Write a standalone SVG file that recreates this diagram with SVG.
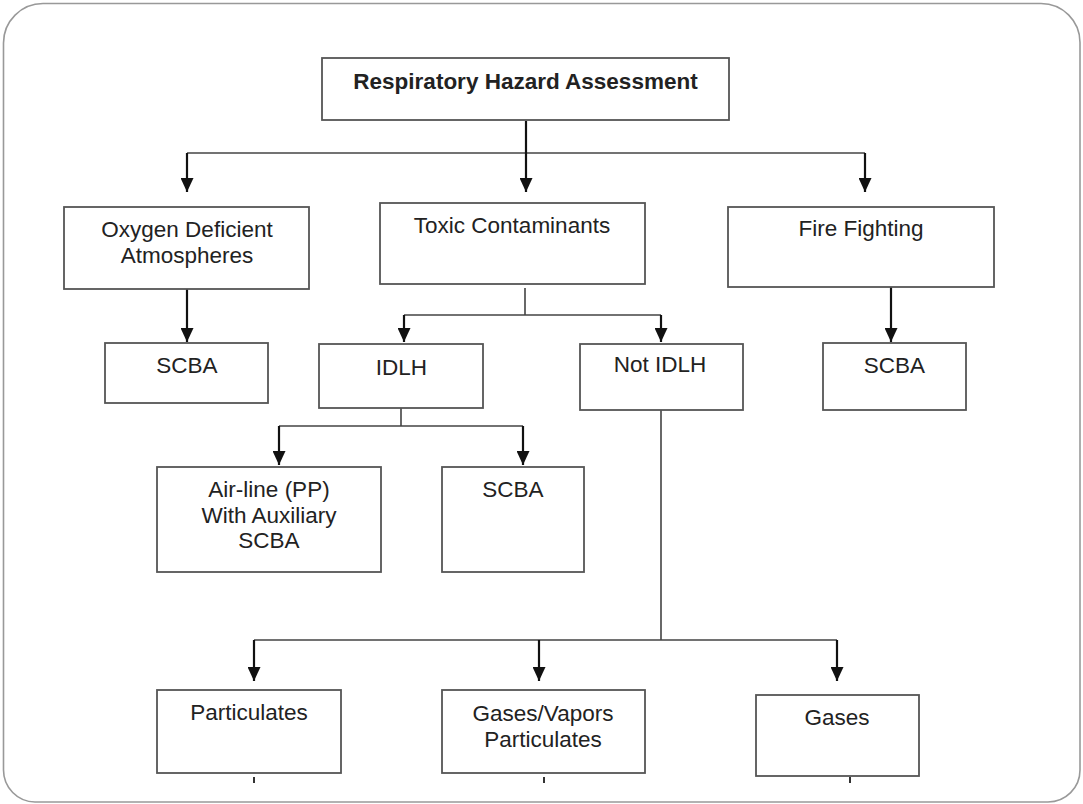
<svg xmlns="http://www.w3.org/2000/svg" width="1083" height="804" viewBox="0 0 1083 804">
<defs>
<marker id="arr" viewBox="0 0 14 13" refX="14" refY="6.5" markerWidth="14" markerHeight="13" markerUnits="userSpaceOnUse" orient="auto">
<path d="M0,0 L14,6.5 L0,13 z" fill="#111"/>
</marker>
<style>
.box{fill:#fff;stroke:#555;stroke-width:1.8}
.t{font-family:"Liberation Sans",Arial,sans-serif;font-size:22.5px;fill:#222;text-anchor:middle}
.b{font-weight:bold;font-size:22.5px}
.h{fill:none;stroke:#444;stroke-width:1.6}
.a{fill:none;stroke:#111;stroke-width:2.2;marker-end:url(#arr)}
.k{fill:none;stroke:#333;stroke-width:2}
</style>
</defs>
<rect x="0" y="0" width="1083" height="804" fill="#fff"/>
<path d="M43,3.5 H1041 A39,39 0 0 1 1080,42.5 V770 A32,32 0 0 1 1048,802 H35 A32,32 0 0 1 3.5,770 V43 A39.5,39.5 0 0 1 43,3.5 Z" fill="#fff" stroke="#999" stroke-width="1.6"/>

<g id="connectors">
<path class="h" d="M187,153 H865"/>
<path class="a" d="M526,121 V192"/>
<path class="a" d="M187,153 V192"/>
<path class="a" d="M865,153 V192"/>
<path class="a" d="M187,289 V342"/>
<path class="a" d="M891,287 V342"/>
<path class="h" d="M525,288 V315 M404,315 H661"/>
<path class="a" d="M404,315 V342"/>
<path class="a" d="M661,315 V342"/>
<path class="h" d="M401,408 V426 M279,426 H523"/>
<path class="a" d="M279,426 V465"/>
<path class="a" d="M523,426 V465"/>
<path class="h" d="M661,410 V640 M254,640 H837"/>
<path class="a" d="M254,640 V681"/>
<path class="a" d="M539,640 V681"/>
<path class="a" d="M837,640 V681"/>
<path class="k" d="M254,777 V783 M544,777 V783 M850,777 V783"/>
</g>

<g id="node-title">
<rect class="box" x="322" y="58" width="407" height="62"/>
<text class="t b" x="525.5" y="89">Respiratory Hazard Assessment</text>
</g>
<g id="node-oxygen">
<rect class="box" x="64" y="207" width="245" height="82"/>
<text class="t" x="187" y="237">Oxygen Deficient</text>
<text class="t" x="187" y="263">Atmospheres</text>
</g>
<g id="node-toxic">
<rect class="box" x="380" y="203" width="265" height="81"/>
<text class="t" x="512" y="233">Toxic Contaminants</text>
</g>
<g id="node-fire">
<rect class="box" x="728" y="207" width="266" height="80"/>
<text class="t" x="861" y="236">Fire Fighting</text>
</g>
<g id="node-scba1">
<rect class="box" x="105" y="343" width="163" height="60"/>
<text class="t" x="187" y="373">SCBA</text>
</g>
<g id="node-idlh">
<rect class="box" x="319" y="344" width="164" height="64"/>
<text class="t" x="401.5" y="375">IDLH</text>
</g>
<g id="node-notidlh">
<rect class="box" x="580" y="344" width="163" height="66"/>
<text class="t" x="660" y="372">Not IDLH</text>
</g>
<g id="node-scba3">
<rect class="box" x="823" y="343" width="143" height="67"/>
<text class="t" x="894.5" y="373">SCBA</text>
</g>
<g id="node-airline">
<rect class="box" x="157" y="467" width="224" height="105"/>
<text class="t" x="269" y="497">Air-line (PP)</text>
<text class="t" x="269" y="523">With Auxiliary</text>
<text class="t" x="269" y="548">SCBA</text>
</g>
<g id="node-scba2">
<rect class="box" x="442" y="467" width="142" height="105"/>
<text class="t" x="513" y="497">SCBA</text>
</g>
<g id="node-particulates">
<rect class="box" x="157" y="690" width="184" height="83"/>
<text class="t" x="249" y="720">Particulates</text>
</g>
<g id="node-gasesvapors">
<rect class="box" x="442" y="690" width="203" height="83"/>
<text class="t" x="543" y="721">Gases/Vapors</text>
<text class="t" x="543" y="747">Particulates</text>
</g>
<g id="node-gases">
<rect class="box" x="756" y="695" width="163" height="81"/>
<text class="t" x="837" y="725">Gases</text>
</g>
</svg>
